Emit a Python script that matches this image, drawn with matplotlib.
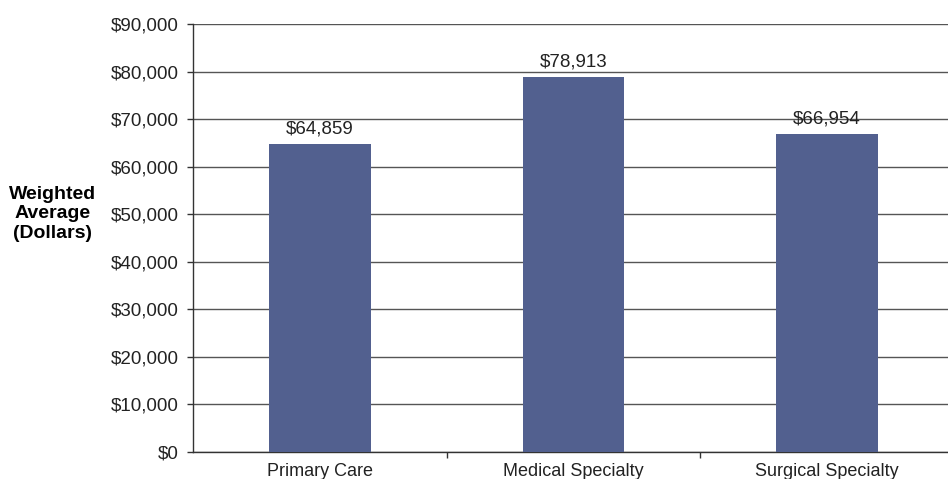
import matplotlib

matplotlib.use("Agg")
import matplotlib.pyplot as plt
from matplotlib.ticker import FuncFormatter, FixedLocator

categories = ["Primary Care", "Medical Specialty", "Surgical Specialty"]
values = [64859, 78913, 66954]
y_ticks = list(range(0, 90001, 10000))

plt.rcParams["font.family"] = ["Liberation Sans", "DejaVu Sans"]

fig = plt.figure(figsize=(9.48, 4.79), dpi=100)
ax = fig.add_axes([193 / 948, 27 / 479, (954 - 193) / 948, (452 - 24) / 479])

x = list(range(len(categories)))
bars = ax.bar(x, values, width=0.4, color="#52608f", zorder=3)

ax.set_xlim(-0.5, len(categories) - 0.5)
ax.set_ylim(0, 90000)
ax.set_yticks(y_ticks)
ax.yaxis.set_major_formatter(FuncFormatter(lambda v, _: f"${v:,.0f}"))
ax.yaxis.grid(True, color="#555555", linewidth=1.0, zorder=0)

ax.set_xticks(x)
ax.set_xticklabels(categories)
ax.xaxis.set_minor_locator(FixedLocator([i + 0.5 for i in x[:-1]]))
ax.tick_params(axis="x", which="major", length=0, pad=8, labelsize=13, colors="#222222")
ax.tick_params(axis="x", which="minor", length=4, width=1, color="#333333")
ax.tick_params(axis="y", length=4, width=1, pad=6, labelsize=13.5, color="#333333",
               labelcolor="#222222")

for side in ("top", "right"):
    ax.spines[side].set_visible(False)
for side in ("left", "bottom"):
    ax.spines[side].set_color("#333333")
    ax.spines[side].set_linewidth(1.0)

for b, v in zip(bars, values):
    ax.annotate(f"${v:,.0f}", (b.get_x() + b.get_width() / 2, v),
                xytext=(0, 4.5), textcoords="offset points",
                ha="center", va="bottom", fontsize=13.5, color="#222222")

fig.text(53 / 948, 1 - 214 / 479, "Weighted\nAverage\n(Dollars)", ha="center",
         va="center", fontsize=14, fontweight="bold", linespacing=1.2)

fig.savefig("out.png", dpi=100)
